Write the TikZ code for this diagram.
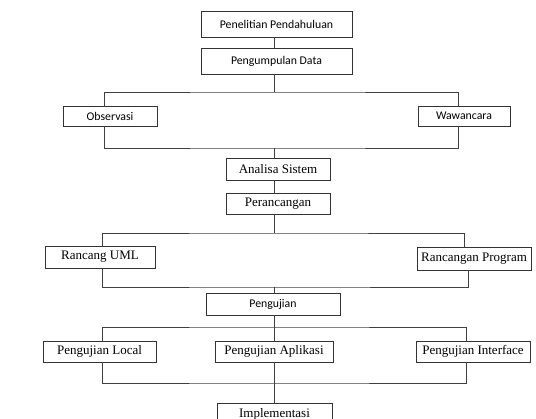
\documentclass[tikz,border=0pt]{standalone}
\usepackage{fontspec}
\setmainfont{Liberation Serif}
\newfontfamily\calfont{Carlito}
\begin{document}
\begin{tikzpicture}[x=1pt,y=-1pt,
  box/.style={draw=black!80,line width=0.8pt,fill=white,inner sep=0pt,anchor=center},
  sansbox/.style={box,font=\calfont\fontsize{11.8}{14}\selectfont},
  serifbox/.style={box,font=\fontsize{13}{15}\selectfont},
  link/.style={draw=black!75,line width=0.8pt}]
\useasboundingbox (0,0) rectangle (536,419);

% process boxes
\node[sansbox,minimum width=151pt,minimum height=26pt] (pp) at (276.5,24) {Penelitian Pendahuluan};
\node[sansbox,minimum width=151pt,minimum height=26pt] (pd) at (276.5,61) {Pengumpulan Data};
\node[sansbox,minimum width=94pt,minimum height=20pt] (obs) at (110,116) {Observasi};
\node[sansbox,minimum width=92pt,minimum height=20pt] (waw) at (464,116) {Wawancara};
\node[serifbox,minimum width=104pt,minimum height=22pt] (as) at (278,169) {Analisa Sistem};
\node[serifbox,minimum width=104pt,minimum height=21pt] (per) at (278,203.5) {Perancangan};
\node[serifbox,minimum width=110pt,minimum height=22pt] (uml) at (100,257) {Rancang UML};
\node[serifbox,minimum width=114pt,minimum height=23pt] (prog) at (474,258.5) {Rancangan Program};
\node[sansbox,minimum width=134pt,minimum height=22pt] (uji) at (273,304) {Pengujian};
\node[serifbox,minimum width=113pt,minimum height=21pt] (loc) at (99.5,351.5) {Pengujian Local};
\node[serifbox,minimum width=118pt,minimum height=21pt] (apl) at (274,351.5) {Pengujian Aplikasi};
\node[serifbox,minimum width=114pt,minimum height=21pt] (int) at (473,351.5) {Pengujian Interface};
\node[serifbox,minimum width=115pt,minimum height=22pt] (imp) at (274.5,414) {Implementasi};

% branch points
\coordinate (s1) at (274,92);
\coordinate (j1) at (274,148);
\coordinate (s2) at (274,233);
\coordinate (j2) at (274,287);
\coordinate (s3) at (274,327);
\coordinate (j3) at (274,383);

% connectors
\draw[link] (pp.south -| s1) -- (pd.north -| s1);
\draw[link] (pd.south -| s1) -- (s1);
\draw[link] (obs.north -| 104,0) |- (s1) -| (waw.north -| 458,0);
\draw[link] (obs.south -| 104,0) |- (j1) -| (waw.south -| 458,0);
\draw[link] (j1) -- (as.north -| j1);
\draw[link] (as.south -| j1) -- (per.north -| j1);
\draw[link] (per.south -| s2) -- (s2);
\draw[link] (uml.north -| 102,0) |- (s2) -| (prog.north -| 464,0);
\draw[link] (uml.south -| 102,0) |- (j2) -| (prog.south -| 468,0);
\draw[link] (j2) -- (uji.north -| j2);
\draw[link] (uji.south -| s3) -- (apl.north -| s3);
\draw[link] (loc.north -| 102,0) |- (s3) -| (int.north -| 466,0);
\draw[link] (loc.south -| 102,0) |- (j3) -| (int.south -| 466,0);
\draw[link] (apl.south -| j3) -- (imp.north -| j3);
\end{tikzpicture}
\end{document}
